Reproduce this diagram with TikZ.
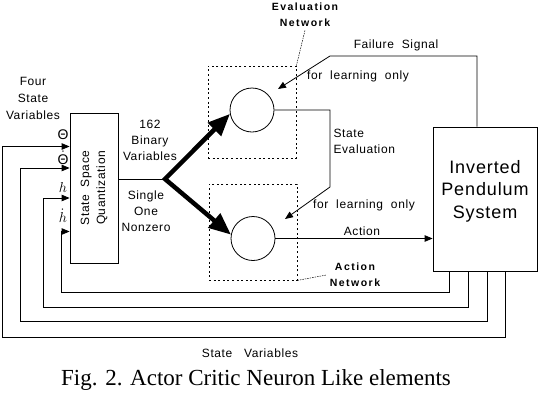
\documentclass[tikz,border=0pt]{standalone}
\usepackage{fontspec}
\setmainfont{Liberation Sans}[LetterSpace=5]
\newfontfamily\netfont{Liberation Sans}[LetterSpace=14]
\newfontfamily\capfont{Liberation Serif}
\usetikzlibrary{arrows.meta,positioning}
\tikzset{
  wire/.style={line width=0.8pt},
  arr/.style={wire,-{Triangle[length=8pt,width=6.5pt]}},
  fat/.style={line width=4.5pt,line join=miter,
    {Triangle[length=22pt,width=18pt]}-{Triangle[length=22pt,width=18pt]}},
  net/.style={draw,line width=0.8pt,dash pattern=on 2pt off 2.6pt},
  cell/.style={draw,wire,circle,minimum size=44pt,inner sep=0pt},
  leader/.style={line width=0.5pt,dash pattern=on 1.5pt off 1pt},
  lab/.style={font=\fontsize{12}{16}\selectfont,align=center},
  bold/.style={font=\netfont\bfseries\fontsize{10.5}{16}\selectfont,align=center},
}

\begin{document}
\begin{tikzpicture}[x=1pt,y=-1pt]
  \useasboundingbox (0,0) rectangle (538,402);
  \coordinate (junc) at (165,179);
  \coordinate (failtop) at (477,56);
  \coordinate (failbend) at (330,56);
  \coordinate (evallearn) at (278,89);
  \coordinate (evalbend) at (330,110);
  \coordinate (evaldown) at (330,187);
  \coordinate (actlearn) at (285,219);

  % blocks
  \node [wire,draw,minimum width=48pt,minimum height=150pt] (quant) at (94,188) {};
  \node [lab,rotate=90] (quanttxt) at (quant.center) {State\ \ Space\\Quantization};
  \node [wire,draw,minimum width=104pt,minimum height=144pt] (pend) at (485,199) {};
  \node [font=\fontsize{18}{22.5}\selectfont,align=center] (pendtxt) at (485,191) {Inverted\\Pendulum\\System};
  \node [net,minimum width=88pt,minimum height=92pt] (evalnet) at (252,112) {};
  \node [net,minimum width=88pt,minimum height=96pt] (actnet) at (253,232) {};
  \node [cell] (evalc) at (252,110) {};
  \node [cell] (actc) at (253,238.5) {};

  % labels
  \node [bold] (evallab) at (305,15) {Evaluation\\Network};
  \node [bold] (actlab) at (355,275) {Action\\Network};
  \draw [leader] (evallab.south) -- (evalnet.north east);
  \draw [leader] (actnet.south east) -- (actlab.west);
  \node [lab,font=\fontsize{12}{17}\selectfont] (fourlab) at (33,98) {Four\\State\\Variables};
  \node [lab] (binlab) at (150,140) {162\\Binary\\Variables};
  \node [lab] (onelab) at (146,211) {Single\\One\\Nonzero};
  \node [lab] (faillab) at (396,45) {Failure\ \ Signal};
  \node [lab] (learnlab) at (358,76) {for\ \ learning\ \ only};
  \node [lab] (learnlabb) at (364,205) {for\ \ learning\ \ only};
  \node [lab,align=left,anchor=west] (evaluelab) at (330,141) {State\\Evaluation};
  \node [lab] (actionlab) at (362,231) {Action};
  \node [lab] (varlab) at (250,353) {State\ \ \ Variables};
  \node [font=\capfont\fontsize{23}{27}\selectfont] (caption) at (256,380) {Fig. 2. Actor Critic Neuron Like elements};

  % signals
  \draw [wire] (quant.east |- junc) -- (junc);
  \draw [fat] (evalc.190) -- (junc) -- (actc.170);
  \draw [arr] (evalc.east) -- (evalbend) -- (evaldown) -- (actlearn);
  \draw [arr] (pend.north -| failtop) -- (failtop) -- (failbend) -- (evallearn);
  \draw [arr] (actc.east) -- (actc.east -| pend.west);

  % state variables fed back
  \foreach \ay/\ly/\lx/\by/\rx/\sym [count=\i] in
  {
    146.5/135/2/337/505.5/\hbox{Θ},
    168/158/20/321/487/\dot{\hbox{Θ}},
    198/187/43/307/468/h,
    231.5/216/61/292/449/\dot h
  }
  {
    \draw [arr] (pend.south -| \rx,0) -- (\rx,\by) -- (\lx,\by) -- (\lx,\ay) -- (quant.west |- 0,\ay);
    \node [font=\fontsize{14}{16}\selectfont,inner sep=1pt] (var\i) at (63,\ly) {$\sym$};
  }
\end{tikzpicture}
\end{document}
